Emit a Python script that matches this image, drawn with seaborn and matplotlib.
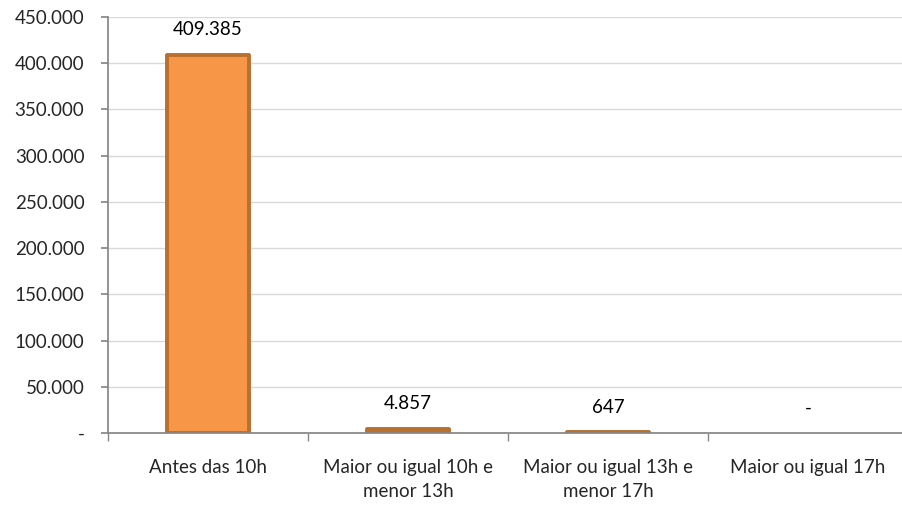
import matplotlib
matplotlib.use("Agg")
import matplotlib.pyplot as plt
import numpy as np
import pandas as pd
import seaborn as sns
from matplotlib.ticker import FuncFormatter, MultipleLocator, FixedLocator

# Data
categories = [
    "Antes das 10h",
    "Maior ou igual 10h e\nmenor 13h",
    "Maior ou igual 13h e\nmenor 17h",
    "Maior ou igual 17h",
]
values = [409385, 4857, 647, 0]

df = pd.DataFrame({"faixa": categories, "qtd": values})


def fmt_num(v):
    if v == 0:
        return "-"
    return f"{int(round(v)):,}".replace(",", ".")


sns.set_theme(style="white")
plt.rcParams["font.family"] = ["Lato", "DejaVu Sans"]

fig = plt.figure(figsize=(9.02, 5.08), dpi=100)
ax = fig.add_axes([108 / 902, 75 / 508, 800 / 902, 416 / 508])

sns.barplot(
    data=df,
    x="faixa",
    y="qtd",
    color="#F79646",
    saturation=1,
    width=0.41,
    edgecolor="#B8702F",
    linewidth=2.8,
    ax=ax,
)

# hide zero bars, label the rest
for p, v in zip(ax.patches, values):
    if v == 0:
        p.set_visible(False)
    p.set_joinstyle("round")
    ax.annotate(
        fmt_num(v),
        (p.get_x() + p.get_width() / 2.0, p.get_height()),
        ha="center",
        va="center",
        xytext=(0, 18),
        textcoords="offset points",
        fontsize=13.5,
        color="#000000",
    )

ax.set_xlim(-0.5, 3.5)
ax.set_ylim(0, 450000)
ax.yaxis.set_major_locator(MultipleLocator(50000))
ax.yaxis.set_major_formatter(FuncFormatter(lambda v, pos: fmt_num(v)))
ax.grid(axis="y", color="#D9D9D9", linewidth=1)
ax.set_axisbelow(True)

for side in ["top", "right"]:
    ax.spines[side].set_visible(False)
ax.spines["left"].set_color("#878787")
ax.spines["bottom"].set_color("#878787")

ax.set_xlabel("")
ax.set_ylabel("")
ax.tick_params(axis="y", left=True, length=5, color="#878787", labelsize=13.5, pad=12)
ax.tick_params(axis="x", which="major", length=0, labelbottom=False)
ax.xaxis.set_minor_locator(FixedLocator([-0.5, 0.5, 1.5, 2.5, 3.5]))
ax.tick_params(axis="x", which="minor", bottom=True, length=6, color="#878787")

# category labels, each line centred under its bar
for i, c in enumerate(categories):
    for k, line in enumerate(c.split("\n")):
        ax.annotate(
            line,
            (i, 0),
            xycoords=ax.get_xaxis_transform(),
            xytext=(0, -25 - 17.3 * k),
            textcoords="offset points",
            ha="center",
            va="center",
            fontsize=13.5,
        )

fig.savefig("out.png", dpi=100)
